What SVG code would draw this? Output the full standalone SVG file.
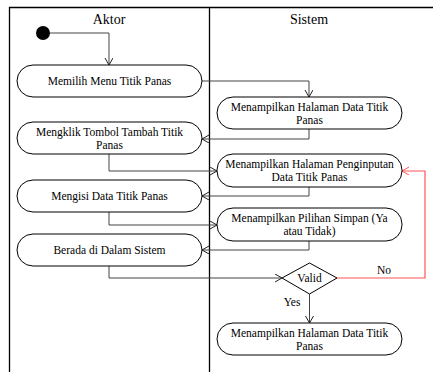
<svg xmlns="http://www.w3.org/2000/svg" width="433" height="372" viewBox="0 0 433 372">
<defs>
<marker id="arr" markerUnits="userSpaceOnUse" markerWidth="10" markerHeight="10" refX="7" refY="4" orient="auto">
<path d="M0,0 L7,4 L0,8" fill="none" stroke="#222" stroke-width="1"/>
</marker>
<marker id="arrR" markerUnits="userSpaceOnUse" markerWidth="10" markerHeight="10" refX="7" refY="4" orient="auto">
<path d="M0,0 L7,4 L0,8" fill="none" stroke="#ff5555" stroke-width="1"/>
</marker>
<style>
.frame{stroke:#000;stroke-width:1.3;fill:none}
.node{fill:#fff;stroke:#000;stroke-width:1}
.t{font-size:11.5px;fill:#000;text-anchor:middle}
.h{font-size:14px;fill:#000;text-anchor:middle}
.c{fill:none;stroke:#444;stroke-width:1;marker-end:url(#arr)}
.cr{fill:none;stroke:#ff5555;stroke-width:1.2;marker-end:url(#arrR)}
</style>
</defs>
<g font-family="Liberation Serif, Times New Roman, DejaVu Serif, serif">
<g id="frame">
<path class="frame" d="M9,7.5 H433 M9.5,7 V372 M209.5,7 V372"/>
<text class="h" x="109" y="24">Aktor</text>
<text class="h" x="309" y="24">Sistem</text>
</g>
<g id="connectors">
<path class="c" d="M50,33 H109 V65"/>
<path class="c" d="M202,81 H309 V97"/>
<path class="c" d="M309,129 V139 H202"/>
<path class="c" d="M109,154 V171 H217"/>
<path class="c" d="M309,187 V196 H202"/>
<path class="c" d="M109,212 V225 H217"/>
<path class="c" d="M309,241 V250 H202"/>
<path class="c" d="M109,266 V278 H282"/>
<path class="c" d="M309.5,294 V323"/>
<path class="cr" d="M337,278 H425 V171 H402"/>
<text class="t" x="292" y="306">Yes</text>
<text class="t" x="384" y="274">No</text>
</g>
<g id="start"><circle cx="43" cy="33" r="7" fill="#000"/></g>
<g id="n1"><rect class="node" x="17" y="65" width="185" height="32" rx="16"/><text class="t" x="109.5" y="85">Memilih Menu Titik Panas</text></g>
<g id="n2"><rect class="node" x="217" y="97" width="185" height="32" rx="16"/><text class="t" x="309.5" y="111">Menampilkan Halaman Data Titik</text><text class="t" x="309.5" y="124">Panas</text></g>
<g id="n3"><rect class="node" x="17" y="122" width="185" height="32" rx="16"/><text class="t" x="109.5" y="136">Mengklik Tombol Tambah Titik</text><text class="t" x="109.5" y="149">Panas</text></g>
<g id="n4"><rect class="node" x="217" y="154" width="185" height="33" rx="16"/><text class="t" x="309.5" y="168">Menampilkan Halaman Penginputan</text><text class="t" x="309.5" y="181">Data Titik Panas</text></g>
<g id="n5"><rect class="node" x="17" y="180" width="185" height="32" rx="16"/><text class="t" x="109.5" y="200">Mengisi Data Titik Panas</text></g>
<g id="n6"><rect class="node" x="217" y="208" width="185" height="33" rx="16"/><text class="t" x="309.5" y="222">Menampilkan Pilihan Simpan (Ya</text><text class="t" x="309.5" y="235">atau Tidak)</text></g>
<g id="n7"><rect class="node" x="17" y="234" width="185" height="32" rx="16"/><text class="t" x="109.5" y="254">Berada di Dalam Sistem</text></g>
<g id="valid"><polygon class="node" points="282,278 309.5,263 337,278 309.5,294"/><text class="t" x="309.5" y="282">Valid</text></g>
<g id="n8"><rect class="node" x="217" y="323" width="185" height="32" rx="16"/><text class="t" x="309.5" y="337">Menampilkan Halaman Data Titik</text><text class="t" x="309.5" y="350">Panas</text></g>
</g>
</svg>
